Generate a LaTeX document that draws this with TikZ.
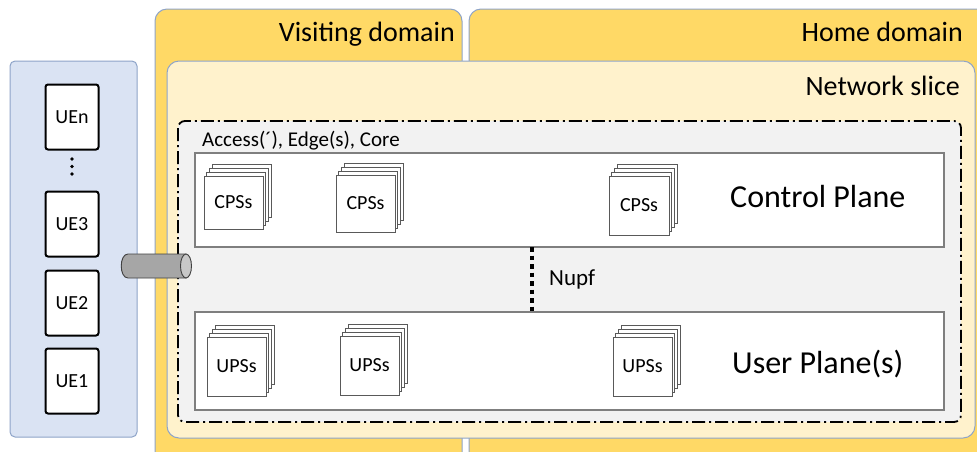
\documentclass[tikz,border=0pt]{standalone}
\usepackage{fontspec}
\setmainfont{Carlito}
\definecolor{dom}{HTML}{FFD966}
\definecolor{slice}{HTML}{FFF2CC}
\definecolor{bord}{HTML}{8EA4C8}
\definecolor{uebg}{HTML}{DAE3F3}
\definecolor{grayfill}{HTML}{F2F2F2}
\definecolor{plane}{HTML}{7F7F7F}
\definecolor{stk}{HTML}{595959}
\definecolor{cyl}{HTML}{A6A6A6}
\definecolor{cylend}{HTML}{C8C8C8}
\tikzset{
  domainbox/.style={draw=bord, fill=dom, line width=1pt, rounded corners=12pt},
  slicebox/.style={draw=bord, fill=slice, line width=1pt, rounded corners=12pt},
  uearea/.style={draw=bord, fill=uebg, line width=1pt, rounded corners=5pt},
  uebox/.style={draw=black, fill=white, line width=2pt, rounded corners=2.5pt, minimum width=53pt, minimum height=65pt, inner sep=0pt, font=\fontsize{20}{22}\selectfont},
  dashbox/.style={draw=black, fill=grayfill, line width=1.8pt, rounded corners=7pt, dash pattern=on 13pt off 4pt on 2pt off 4pt},
  planebox/.style={draw=plane, fill=white, line width=1.3pt},
  layer/.style={draw=stk, fill=white, line width=0.9pt},
  bigtxt/.style={font=\fontsize{28}{30}\selectfont, inner sep=0pt},
  planetxt/.style={font=\fontsize{32}{34}\selectfont, inner sep=0pt},
  midtxt/.style={font=\fontsize{21}{23}\selectfont, inner sep=0pt},
  nupfline/.style={draw=black, line width=3.6pt, dash pattern=on 4.5pt off 4pt},
  cylbody/.style={draw=black!75, fill=cyl, line width=0.9pt},
  cylcap/.style={draw=black!75, fill=cylend, line width=0.9pt},
}
\newcommand{\mystack}[6]{%
  \foreach \k in {3,2,1} {
    \draw[layer] ($(#2,#3)+(2.7*\k,-4*\k)$) rectangle ($(#4,#5)+(2.7*\k,-4*\k)$);
  }
  \node[layer, font=\fontsize{20}{22}\selectfont, inner sep=0pt, minimum width={#4-#2}, minimum height={#5-#3}] (#1) at ({(#2+#4)/2},{(#3+#5)/2}) {#6};
}
\usetikzlibrary{calc}
\begin{document}
\begin{tikzpicture}[x=1pt,y=-1pt]
\clip (0,0) rectangle (977,451);
\fill[white] (0,0) rectangle (977,451);
% UE area
\draw[uearea] (10,61) rectangle (137,437);
\node[uebox] (uen) at (72,117) {UEn};
\node[uebox] (ue3) at (72,224) {UE3};
\node[uebox] (ue2) at (72,303) {UE2};
\node[uebox] (ue1) at (72,381) {UE1};
\foreach \yy in {159,166.5,174} \fill (72,\yy) circle (1.9pt);
% domains
\draw[domainbox] (155,9) rectangle (462,480);
\node[bigtxt, anchor=base east] (vd) at (455,41) {Visiting domain};
\draw[domainbox] (469,9) rectangle (995,480);
\node[bigtxt, anchor=base east] (hd) at (963,41) {Home domain};
% slice
\draw[slicebox] (167,61) rectangle (975,438);
\node[bigtxt, anchor=base east] (ns) at (960,95) {Network slice};
% dash-dot box
\draw[dashbox] (178,121) rectangle (961,422);
\node[midtxt, anchor=base west] (aec) at (202,146) {Access(´), Edge(s), Core};
% planes
\draw[planebox] (195,153) rectangle (944,247);
\coordinate (cpS) at (532,247);
\node[planetxt, anchor=base west] (cpt) at (730,207) {Control Plane};
\draw[planebox] (195,312) rectangle (944,410);
\coordinate (upN) at (532,312);
\node[planetxt, anchor=base west] (upt) at (732,373) {User Plane(s)};
% stacks
\mystack{cps1}{204}{176}{263}{229}{CPSs}
\mystack{cps2}{336}{175}{395}{232}{CPSs}
\mystack{cps3}{609}{176}{669}{235}{CPSs}
\mystack{ups1}{207}{337}{266}{396}{UPSs}
\mystack{ups2}{340}{336}{399}{395}{UPSs}
\mystack{ups3}{613}{337}{672}{396}{UPSs}
% Nupf
\draw[nupfline] (cpS) -- (upN);
\node[font=\fontsize{23}{25}\selectfont, inner sep=0pt, anchor=base west] (nupf) at (549,285) {Nupf};
% cylinder
\draw[cylbody] (186,254) -- (128,254) .. controls (119,254) and (119,278) .. (128,278) -- (186,278) -- cycle;
\draw[cylcap] (186,266) ellipse [x radius=5.5, y radius=12];
\end{tikzpicture}
\end{document}
